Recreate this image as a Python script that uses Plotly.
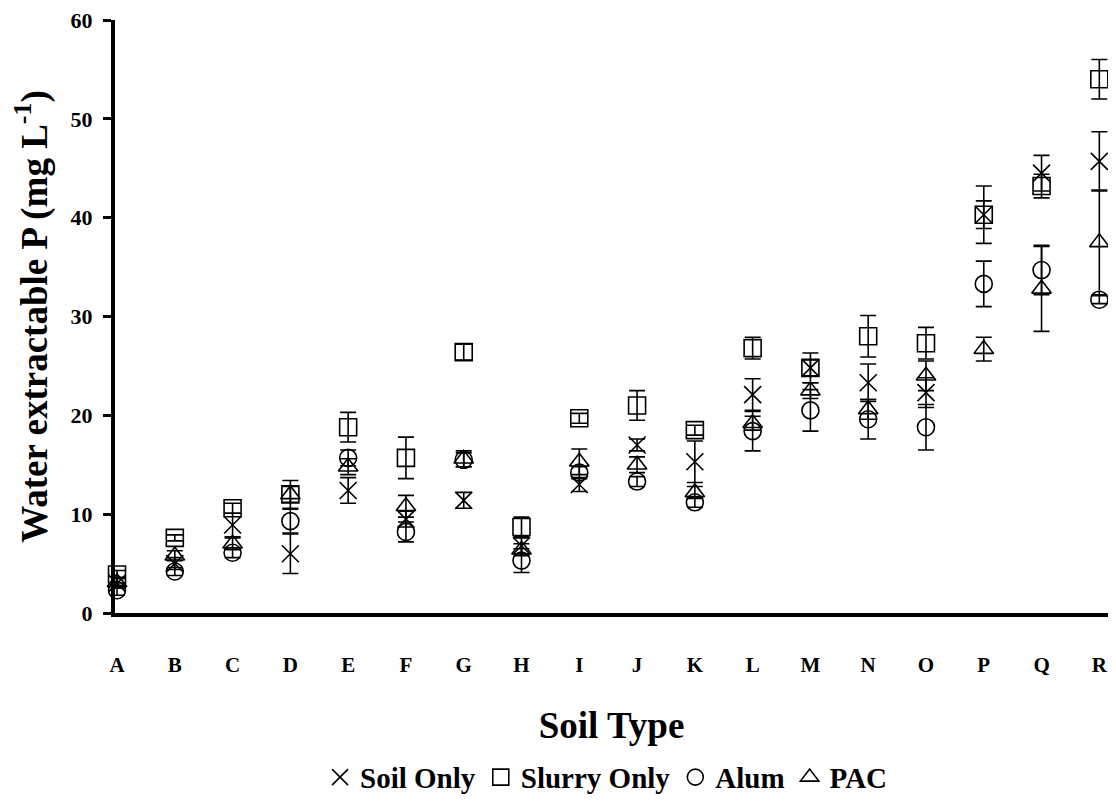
import plotly.graph_objects as go

soil_types = ["A", "B", "C", "D", "E", "F", "G", "H", "I", "J", "K", "L", "M", "N", "O", "P", "Q", "R"]

soil_only = [3.0, 5.0, 8.9, 6.0, 12.4, 9.5, 11.4, 6.8, 13.0, 17.0, 15.3, 22.1, 24.8, 23.3, 22.3, 40.3, 44.5, 45.7]
soil_only_err = [0.5, 0.6, 1.2, 2.0, 1.3, 0.8, 0.8, 0.8, 0.7, 0.6, 2.1, 1.6, 1.5, 1.9, 1.5, 2.9, 1.8, 3.0]

slurry_only = [3.9, 7.6, 10.6, 12.0, 18.8, 15.7, 26.4, 8.7, 19.7, 21.0, 18.5, 26.8, 24.8, 28.0, 27.3, 40.3, 43.2, 54.0]
slurry_only_err = [0.4, 0.3, 0.5, 1.4, 1.5, 2.1, 0.8, 1.0, 0.5, 1.5, 0.5, 1.1, 0.8, 2.1, 1.6, 1.4, 1.2, 2.0]

alum = [2.3, 4.2, 6.1, 9.3, 15.7, 8.2, 15.5, 5.3, 14.2, 13.3, 11.2, 18.4, 20.5, 19.6, 18.8, 33.3, 34.7, 31.7]
alum_err = [0.5, 0.4, 0.5, 1.2, 0.8, 1.0, 0.7, 1.2, 0.6, 0.5, 0.5, 2.0, 2.1, 2.0, 2.3, 2.3, 2.5, 0.4]

pac = [3.1, 5.8, 7.0, 12.0, 14.8, 10.8, 15.6, 6.4, 15.3, 15.0, 12.2, 19.2, 22.5, 20.6, 24.0, 26.7, 32.8, 37.5]
pac_err = [0.5, 0.5, 0.6, 0.8, 0.8, 1.1, 0.8, 0.6, 1.3, 0.8, 0.6, 0.7, 0.8, 1.0, 1.5, 1.2, 4.3, 5.3]

y_ticks = [0, 10, 20, 30, 40, 50, 60]

FONT = "Liberation Serif"

series = [
    ("Soil Only", soil_only, soil_only_err, "x-thin-open"),
    ("Slurry Only", slurry_only, slurry_only_err, "square-open"),
    ("Alum", alum, alum_err, "circle-open"),
    ("PAC", pac, pac_err, "triangle-up-open"),
]

fig = go.Figure()
for name, vals, errs, sym in series:
    fig.add_trace(go.Scatter(
        x=soil_types, y=vals, name=name, mode="markers",
        marker=dict(symbol=sym, size=17, color="black",
                    line=dict(color="black", width=1.6)),
        error_y=dict(type="data", array=errs, visible=True,
                     color="black", thickness=1.6, width=8),
        cliponaxis=False,
    ))

fig.update_layout(
    width=1100, height=795,
    margin=dict(l=107, r=0, t=12, b=180),
    plot_bgcolor="white", paper_bgcolor="white",
    font=dict(family=FONT, color="black"),
    showlegend=True,
    legend=dict(orientation="h", x=0.495, xanchor="center", y=-0.277, yanchor="middle",
                font=dict(family=FONT, size=29, color="black", weight="bold"),
                itemwidth=30, tracegroupgap=0),
    xaxis=dict(
        type="category", range=[-0.035, 17.15], automargin=False,
        showline=True, linecolor="black", linewidth=4,
        showgrid=False, zeroline=False, ticks="",
        tickfont=dict(family=FONT, size=21, color="black", weight="bold"),
        ticklabelstandoff=30,
        title=dict(text="Soil Type", font=dict(family=FONT, size=37, color="black", weight="bold"),
                   standoff=37),
    ),
    yaxis=dict(
        range=[0, 60], tickvals=y_ticks, automargin=False,
        showline=True, linecolor="black", linewidth=4,
        showgrid=False, zeroline=False,
        ticks="outside", ticklen=8, tickwidth=3, tickcolor="black",
        tickfont=dict(family=FONT, size=22, color="black", weight="bold"),
        ticklabelstandoff=6, ticklabeloverflow="allow",
        title=dict(text="Water extractable P (mg L<sup>-1</sup>)",
                   font=dict(family=FONT, size=37, color="black", weight="bold"),
                   standoff=20),
    ),
)

fig.write_html("out.html")
